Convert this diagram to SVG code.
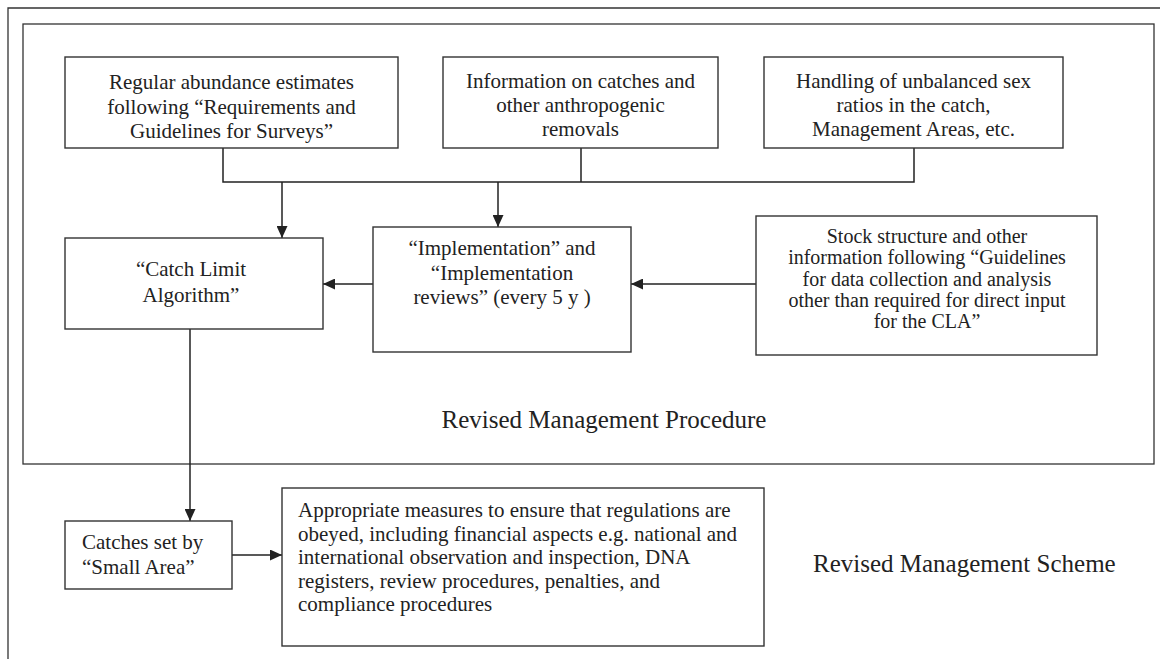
<svg xmlns="http://www.w3.org/2000/svg" width="1160" height="659" viewBox="0 0 1160 659">
<style>
.t{font-size:21px;}
.s{font-size:20px;}
.c{text-anchor:middle;}
.big{font-size:25px;}
.box{fill:#fff;stroke:#333;stroke-width:1.4;}
.frame{fill:none;stroke:#333;stroke-width:1.3;}
.ln{fill:none;stroke:#222;stroke-width:1.5;}
</style>
<defs>
<marker id="ah" markerWidth="12" markerHeight="11" refX="12" refY="5.5" orient="auto" markerUnits="userSpaceOnUse">
<path d="M0,0 L12,5.5 L0,11 Z" fill="#222"/>
</marker>
</defs>
<rect width="1160" height="659" fill="#fff"/>
<path class="frame" d="M8,670 L8,8 L1170,8"/>
<g font-family="'Liberation Serif', Tinos, 'Times New Roman', serif" fill="#222">
<g id="rmp">
<rect class="frame" x="23" y="24" width="1131" height="440"/>
<text class="big c" x="604" y="428">Revised Management Procedure</text>
</g>
<text id="rms" class="big" x="813" y="572">Revised Management Scheme</text>
<g id="connectors">
<path class="ln" d="M223,148 V182 H914 V148 M581,148 V182"/>
<path class="ln" d="M282,182 V238" marker-end="url(#ah)"/>
<path class="ln" d="M498,182 V227" marker-end="url(#ah)"/>
<path class="ln" d="M756,284 H631" marker-end="url(#ah)"/>
<path class="ln" d="M373,284 H323" marker-end="url(#ah)"/>
<path class="ln" d="M190,329 V521" marker-end="url(#ah)"/>
<path class="ln" d="M232,555 H282" marker-end="url(#ah)"/>
</g>
<g id="n1">
<rect class="box" x="65" y="57" width="333" height="91"/>
<text class="t c" x="231.5" y="89">Regular abundance estimates</text>
<text class="t c" x="231.5" y="113.5">following “Requirements and</text>
<text class="t c" x="231.5" y="138">Guidelines for Surveys”</text>
</g>
<g id="n2">
<rect class="box" x="443" y="57" width="275" height="91"/>
<text class="t c" x="580.5" y="88">Information on catches and</text>
<text class="t c" x="580.5" y="112">other anthropogenic</text>
<text class="t c" x="580.5" y="136">removals</text>
</g>
<g id="n3">
<rect class="box" x="764" y="57" width="299" height="91"/>
<text class="t c" x="913.5" y="88">Handling of unbalanced sex</text>
<text class="t c" x="913.5" y="112">ratios in the catch,</text>
<text class="t c" x="913.5" y="136">Management Areas, etc.</text>
</g>
<g id="cla">
<rect class="box" x="65" y="238" width="258" height="91"/>
<text class="t c" x="191" y="276">“Catch Limit</text>
<text class="t c" x="191" y="302">Algorithm”</text>
</g>
<g id="impl">
<rect class="box" x="373" y="227" width="258" height="125"/>
<text class="t c" x="502" y="255">“Implementation” and</text>
<text class="t c" x="502" y="280">“Implementation</text>
<text class="t c" x="502" y="304">reviews” (every 5 y )</text>
</g>
<g id="stock">
<rect class="box" x="756" y="216" width="341" height="139"/>
<text class="s c" x="927" y="243">Stock structure and other</text>
<text class="s c" x="927" y="264">information following “Guidelines</text>
<text class="s c" x="927" y="285.5">for data collection and analysis</text>
<text class="s c" x="927" y="306.5">other than required for direct input</text>
<text class="s c" x="927" y="327.5">for the CLA”</text>
</g>
<g id="catches">
<rect class="box" x="65" y="521" width="167" height="68"/>
<text class="t" x="82" y="549">Catches set by</text>
<text class="t" x="82" y="574">“Small Area”</text>
</g>
<g id="measures">
<rect class="box" x="282" y="488" width="482" height="158"/>
<text class="t" x="298" y="517">Appropriate measures to ensure that regulations are</text>
<text class="t" x="298" y="540.5">obeyed, including financial aspects e.g. national and</text>
<text class="t" x="298" y="564">international observation and inspection, DNA</text>
<text class="t" x="298" y="587.5">registers, review procedures, penalties, and</text>
<text class="t" x="298" y="611">compliance procedures</text>
</g>
</g>
</svg>
